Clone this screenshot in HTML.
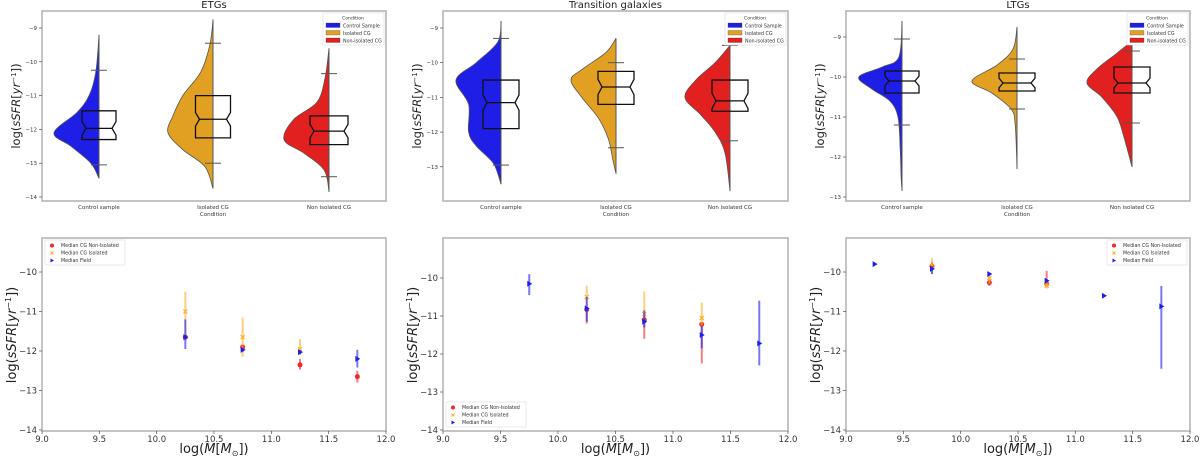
<!DOCTYPE html>
<html><head><meta charset="utf-8"><style>
html,body{margin:0;padding:0;background:#fff;}
svg{display:block;font-family:"DejaVu Sans","Liberation Sans",sans-serif;}
</style></head><body>
<svg id="fig" width="1200" height="459" viewBox="0 0 1200 459" xmlns="http://www.w3.org/2000/svg"><defs id="defs"></defs></svg>
<script>
// ===== Violin data (top row). y values in log sSFR, widths = relative density (0..1) =====
const violinCategories = ["Control sample","Isolated CG","Non isolated CG"];
const etgControlY = [-9.2,-10.3,-11.0,-11.5,-12.1,-12.5,-13.0,-13.45];
const etgControlW = [0,0.07,0.22,0.49,1.0,0.62,0.18,0];
const etgIsoY = [-8.75,-9.5,-10.3,-11.0,-11.6,-12.1,-12.6,-13.1,-13.75];
const etgIsoW = [0,0.07,0.27,0.67,0.89,1.0,0.67,0.18,0];
const etgNonY = [-9.6,-10.5,-11.2,-11.7,-12.3,-12.7,-13.2,-13.85];
const etgNonW = [0,0.09,0.27,0.78,1.0,0.56,0.11,0];
const trControlY = [-8.8,-9.4,-10.0,-10.5,-11.2,-12.0,-12.4,-12.9,-13.5];
const trControlW = [0,0.07,0.55,1.0,0.72,0.72,0.55,0.17,0];
const trIsoY = [-9.3,-9.7,-10.2,-10.5,-11.0,-11.6,-12.2,-12.8,-13.2];
const trIsoW = [0.02,0.22,0.76,1.0,0.76,0.39,0.17,0.07,0];
const trNonY = [-9.5,-10.0,-10.5,-11.0,-11.5,-12.0,-12.6,-13.7];
const trNonW = [0,0.33,0.76,1.0,0.65,0.33,0.11,0];
const ltgControlY = [-8.6,-9.5,-9.75,-10.0,-10.3,-10.6,-11.0,-11.8,-12.5,-12.85];
const ltgControlW = [0,0.07,0.44,0.96,0.67,0.27,0.09,0.04,0.02,0];
const ltgIsoY = [-8.75,-9.3,-9.7,-10.1,-10.4,-10.8,-11.2,-12.3];
const ltgIsoW = [0,0.09,0.44,1.0,0.56,0.13,0.04,0];
const ltgNonY = [-9.1,-9.4,-9.8,-10.15,-10.5,-11.0,-11.5,-12.25];
const ltgNonW = [0,0.33,0.78,1.0,0.67,0.33,0.18,0];
// box stats: [whiskerTop, q3, median, q1, whiskerBottom]
const etgBoxes = [[-10.25,-11.45,-11.97,-12.3,-13.05],[-9.45,-11.0,-11.7,-12.25,-13.0],[-10.35,-11.6,-12.05,-12.45,-13.4]];
const trBoxes = [[-9.3,-10.5,-11.15,-11.9,-12.95],[-10.0,-10.25,-10.7,-11.2,-12.45],[-9.5,-10.5,-11.1,-11.4,-12.25]];
const ltgBoxes = [[-9.05,-9.85,-10.1,-10.4,-11.2],[-9.55,-9.9,-10.15,-10.35,-10.8],[-9.35,-9.75,-10.15,-10.4,-11.15]];
const topTicksA = [-9,-10,-11,-12,-13,-14];
const topTicksL = [-9,-10,-11,-12,-13];

// ===== Scatter data (bottom row) =====
const massTicks = [9.0,9.5,10.0,10.5,11.0,11.5,12.0];
const ssfrTicks = [-10,-11,-12,-13,-14];
const etgNonX=[10.25,10.75,11.25,11.75], etgNonV=[-11.65,-11.9,-12.35,-12.65], etgNonLo=[-11.7,-11.95,-12.47,-12.8], etgNonHi=[-11.6,-11.85,-12.2,-12.5];
const etgIsoX=[10.25,10.75,11.25], etgIsoV=[-11.0,-11.65,-11.95], etgIsoLo=[-11.6,-12.15,-12.1], etgIsoHi=[-10.5,-11.15,-11.7];
const etgFldX=[10.25,10.75,11.25,11.75], etgFldV=[-11.65,-11.97,-12.03,-12.2], etgFldLo=[-11.95,-12.02,-12.08,-12.42], etgFldHi=[-11.2,-11.92,-11.98,-11.97];
const trNonX=[10.25,10.75,11.25], trNonV=[-10.83,-11.1,-11.22], trNonLo=[-11.2,-11.6,-12.25], trNonHi=[-10.8,-11.0,-11.2];
const trIsoX=[10.25,10.75,11.25], trIsoV=[-10.5,-10.95,-11.05], trIsoLo=[-10.85,-11.1,-11.3], trIsoHi=[-10.2,-10.35,-10.65];
const trFldX=[9.75,10.25,10.75,11.25,11.75], trFldV=[-10.15,-10.8,-11.15,-11.5,-11.72], trFldLo=[-10.45,-11.15,-11.3,-11.85,-12.3], trFldHi=[-9.9,-10.5,-10.85,-11.25,-10.6];
const ltgNonX=[9.75,10.25,10.75], ltgNonV=[-9.85,-10.27,-10.3], ltgNonLo=[-9.95,-10.35,-10.35], ltgNonHi=[-9.75,-10.19,-9.97];
const ltgIsoX=[9.75,10.25,10.75], ltgIsoV=[-9.85,-10.15,-10.35], ltgIsoLo=[-10.05,-10.3,-10.42], ltgIsoHi=[-9.65,-10.05,-10.25];
const ltgFldX=[9.25,9.75,10.25,10.75,11.25,11.75], ltgFldV=[-9.8,-9.92,-10.05,-10.22,-10.6,-10.87], ltgFldLo=[-9.83,-10.05,-10.08,-10.25,-10.63,-12.45], ltgFldHi=[-9.77,-9.85,-10.02,-10.19,-10.57,-10.35];

const NS="http://www.w3.org/2000/svg";
const svg=document.getElementById('fig');
const defs=document.getElementById('defs');
function mk(tag,attrs,parent){const e=document.createElementNS(NS,tag);for(const k in attrs)e.setAttribute(k,attrs[k]);(parent||svg).appendChild(e);return e;}
function txt(s,attrs,parent){const e=mk('text',attrs,parent);e.textContent=s;return e;}
const COLS=["rgb(30,30,230)","rgb(226,160,35)","rgb(226,32,32)"];
let clipId=0;

function smoothPath(pts){
  let d="M"+pts[0][0]+","+pts[0][1];
  for(let i=0;i<pts.length-1;i++){
    const p0=pts[Math.max(i-1,0)],p1=pts[i],p2=pts[i+1],p3=pts[Math.min(i+2,pts.length-1)];
    const c1=[p1[0]+(p2[0]-p0[0])/6,p1[1]+(p2[1]-p0[1])/6];
    const c2=[p2[0]-(p3[0]-p1[0])/6,p2[1]-(p3[1]-p1[1])/6];
    d+=" C"+c1[0].toFixed(1)+","+c1[1].toFixed(1)+" "+c2[0].toFixed(1)+","+c2[1].toFixed(1)+" "+p2[0].toFixed(1)+","+p2[1].toFixed(1);
  }
  return d;
}

function violinPanel(o){
  const g=mk('g',{});
  
  
  const yS=v=>o.y0+(v-o.v0)*o.k;
  const xs=o.cx;
  const fr=mk('rect',{x:o.L,y:11,width:o.R-o.L,height:190,fill:'none',stroke:'#b0b0b0','stroke-width':1.5},g);
  
  
  const tt=txt(o.title,{x:(o.L+o.R)/2,y:8,'font-size':10,'text-anchor':'middle',fill:'#222'},g);
  
  
  o.ticks.forEach(t=>{
    const y=yS(t);
    mk('line',{x1:o.L-3,x2:o.L,y1:y,y2:y,stroke:'#333','stroke-width':0.6},g);
    const l=txt("\u2212"+Math.abs(t),{x:o.L-5,y:y+2,'font-size':5.5,'text-anchor':'end',fill:'#333'},g);
    
    
  });
  const yl=mk('text',{x:0,y:0,'font-size':11.5,'text-anchor':'middle',fill:'#222',transform:`translate(${o.L-22},106) rotate(-90)`},g);
  yl.innerHTML='log(<tspan font-style="italic">sSFR</tspan>[<tspan font-style="italic">yr</tspan><tspan font-size="7" dy="-4">\u22121</tspan><tspan dy="4">])</tspan>';
  
  
  o.data.forEach((dv,i)=>{
    const cx=xs[i];
    const pts=dv[0].map((v,j)=>[cx-dv[1][j]*45,yS(v)]);
    pts[0][0]=cx;pts[pts.length-1][0]=cx;
    const cid='vc'+(clipId++);
    const cp=mk('clipPath',{id:cid},defs);
    mk('rect',{x:cx-60,y:0,width:60,height:230},cp);
    const p=mk('path',{d:smoothPath(pts)+" Z",fill:COLS[i],stroke:'#555','stroke-width':0.8,'clip-path':`url(#${cid})`},g);
    
    
    mk('line',{x1:cx,x2:cx,y1:yS(dv[0][0]),y2:yS(dv[0][dv[0].length-1]),stroke:'#555','stroke-width':1},g);
    const b=o.boxes[i];const h=o.hw[i],n=4,nt=o.notch;
    const [wt,q3,md,q1,wb]=b.map(yS);
    const nT=yS(b[2]+nt),nB=yS(b[2]-nt);
    const bp=mk('path',{d:`M${cx-h},${q3} L${cx+h},${q3} L${cx+h},${nT} L${cx+h-n},${md} L${cx+h},${nB} L${cx+h},${q1} L${cx-h},${q1} L${cx-h},${nB} L${cx-h+n},${md} L${cx-h},${nT} Z`,fill:'none',stroke:'#111','stroke-width':1.3},g);
    
    
    mk('line',{x1:cx-h+n,x2:cx+h-n,y1:md,y2:md,stroke:'#111','stroke-width':1.3},g);
    [wt,wb].forEach(y=>mk('line',{x1:cx-8,x2:cx+8,y1:y,y2:y,stroke:'#555','stroke-width':1},g));
    const xl=txt(violinCategories[i],{x:cx,y:209,'font-size':5.5,'text-anchor':'middle',fill:'#333'},g);
    
    
  });
  const ct=txt("Condition",{x:xs[1],y:216,'font-size':5.5,'text-anchor':'middle',fill:'#333'},g);
  
  
  const lx=o.R-63,ly=13;
  const lg=mk('g',{},g);
  
  
  mk('rect',{x:lx,y:ly,width:61,height:32,fill:'#fff',stroke:'#ddd','stroke-width':0.6},lg);
  txt("Condition",{x:lx+30,y:ly+6.5,'font-size':4.6,'text-anchor':'middle',fill:'#333'},lg);
  ["Control Sample","Isolated CG","Non-isolated CG"].forEach((s,i)=>{
    mk('rect',{x:lx+3,y:ly+10+i*7.5,width:14,height:4.5,fill:COLS[i],stroke:'#444','stroke-width':0.3},lg);
    txt(s,{x:lx+20,y:ly+14.3+i*7.5,'font-size':4.8,fill:'#333'},lg);
  });
}

violinPanel({name:'etg-violin-panel',title:'ETGs',L:42,R:386,y0:28,v0:-9,k:-33.8,cx:[99,213,329],ticks:topTicksA,hw:[17,17.5,19],notch:0.2,
  data:[[etgControlY,etgControlW],[etgIsoY,etgIsoW],[etgNonY,etgNonW]],boxes:etgBoxes});
violinPanel({name:'transition-violin-panel',title:'Transition galaxies',L:443,R:788,y0:28,v0:-9,k:-34.7,cx:[501,616,730],ticks:topTicksL,hw:[18,18,18],notch:0.22,
  data:[[trControlY,trControlW],[trIsoY,trIsoW],[trNonY,trNonW]],boxes:trBoxes});
violinPanel({name:'ltg-violin-panel',title:'LTGs',L:846,R:1190,y0:37,v0:-9,k:-40,cx:[902,1017,1132],ticks:topTicksL,hw:[17,18,18],notch:0.12,
  data:[[ltgControlY,ltgControlW],[ltgIsoY,ltgIsoW],[ltgNonY,ltgNonW]],boxes:ltgBoxes});

function scatterPanel(o){
  const g=mk('g',{});
  
  
  const T=238,B=431;
  const xS=v=>o.L+(v-9)/3*(o.R-o.L);
  const yS=v=>o.y10+(v+10)*(-o.k);
  const fr=mk('rect',{x:o.L,y:T,width:o.R-o.L,height:B-T,fill:'none',stroke:'#b0b0b0','stroke-width':1.5},g);
  
  
  massTicks.forEach(t=>{
    const x=xS(t);
    mk('line',{x1:x,x2:x,y1:B,y2:B+3,stroke:'#333','stroke-width':0.6},g);
    const l=txt(t.toFixed(1),{x:x,y:B+11,'font-size':8.5,'text-anchor':'middle',fill:'#333'},g);
    
    
  });
  ssfrTicks.forEach(t=>{
    const y=yS(t);
    mk('line',{x1:o.L-3,x2:o.L,y1:y,y2:y,stroke:'#333','stroke-width':0.6},g);
    const l=txt("\u2212"+Math.abs(t),{x:o.L-5,y:y+3,'font-size':8.5,'text-anchor':'end',fill:'#333'},g);
    
    
  });
  const yl=mk('text',{x:0,y:0,'font-size':13,'text-anchor':'middle',fill:'#222',transform:`translate(${o.L-26},335) rotate(-90)`},g);
  yl.innerHTML='log(<tspan font-style="italic">sSFR</tspan>[<tspan font-style="italic">yr</tspan><tspan font-size="8" dy="-5">\u22121</tspan><tspan dy="5">])</tspan>';
  
  
  const xl=mk('text',{x:(o.L+o.R)/2,y:453,'font-size':13,'text-anchor':'middle',fill:'#222'},g);
  xl.innerHTML='log(<tspan font-style="italic">M</tspan>[<tspan font-style="italic">M</tspan><tspan font-size="8" dy="3">\u2299</tspan><tspan dy="-3">])</tspan>';
  
  
  const series=[
    {x:o.non[0],v:o.non[1],lo:o.non[2],hi:o.non[3],c:'rgb(240,40,40)',m:'o',n:'non-isolated'},
    {x:o.iso[0],v:o.iso[1],lo:o.iso[2],hi:o.iso[3],c:'rgb(255,175,40)',m:'x',n:'isolated'},
    {x:o.fld[0],v:o.fld[1],lo:o.fld[2],hi:o.fld[3],c:'rgb(30,30,240)',m:'>',n:'field'}];
  series.forEach(s=>{
    const sg=mk('g',{},g);
    
    
    s.x.forEach((xv,i)=>{
      const x=xS(xv);
      mk('line',{x1:x,x2:x,y1:yS(s.lo[i]),y2:yS(s.hi[i]),stroke:s.c,'stroke-width':2,'stroke-opacity':0.6},sg);
      const y=yS(s.v[i]);
      let m;
      if(s.m==='o') m=mk('circle',{cx:x,cy:y,r:2.5,fill:s.c},sg);
      else if(s.m==='x') m=mk('path',{d:`M${x-2},${y-2}L${x+2},${y+2}M${x-2},${y+2}L${x+2},${y-2}`,stroke:s.c,'stroke-width':1.2},sg);
      else m=mk('path',{d:`M${x-2},${y-3}L${x+3},${y}L${x-2},${y+3}Z`,fill:s.c},sg);
      
      
    });
  });
  const lg=mk('g',{},g);
  
  
  mk('rect',{x:o.lx,y:o.ly,width:80,height:25,fill:'#fff',stroke:'#ddd','stroke-width':0.6},lg);
  ["Median CG Non-Isolated","Median CG Isolated","Median Field"].forEach((s,i)=>{
    const yy=o.ly+5.5+i*7.5,xx=o.lx+7;
    const c=series[i].c;
    if(i===0) mk('circle',{cx:xx,cy:yy,r:2,fill:c},lg);
    else if(i===1) mk('path',{d:`M${xx-1.5},${yy-1.5}L${xx+1.5},${yy+1.5}M${xx-1.5},${yy+1.5}L${xx+1.5},${yy-1.5}`,stroke:c,'stroke-width':1},lg);
    else mk('path',{d:`M${xx-1.5},${yy-2}L${xx+2},${yy}L${xx-1.5},${yy+2}Z`,fill:c},lg);
    txt(s,{x:o.lx+16,y:yy+1.7,'font-size':4.8,fill:'#333'},lg);
  });
}
scatterPanel({name:'etg-mass-panel',L:42,R:386,y10:272,k:39.5,lx:45,ly:240,
  non:[etgNonX,etgNonV,etgNonLo,etgNonHi],iso:[etgIsoX,etgIsoV,etgIsoLo,etgIsoHi],fld:[etgFldX,etgFldV,etgFldLo,etgFldHi]});
scatterPanel({name:'transition-mass-panel',L:443,R:788,y10:278,k:38,lx:446,ly:402,
  non:[trNonX,trNonV,trNonLo,trNonHi],iso:[trIsoX,trIsoV,trIsoLo,trIsoHi],fld:[trFldX,trFldV,trFldLo,trFldHi]});
scatterPanel({name:'ltg-mass-panel',L:846,R:1190,y10:272,k:39.5,lx:1107,ly:240,
  non:[ltgNonX,ltgNonV,ltgNonLo,ltgNonHi],iso:[ltgIsoX,ltgIsoV,ltgIsoLo,ltgIsoHi],fld:[ltgFldX,ltgFldV,ltgFldLo,ltgFldHi]});
</script>
</body></html>
